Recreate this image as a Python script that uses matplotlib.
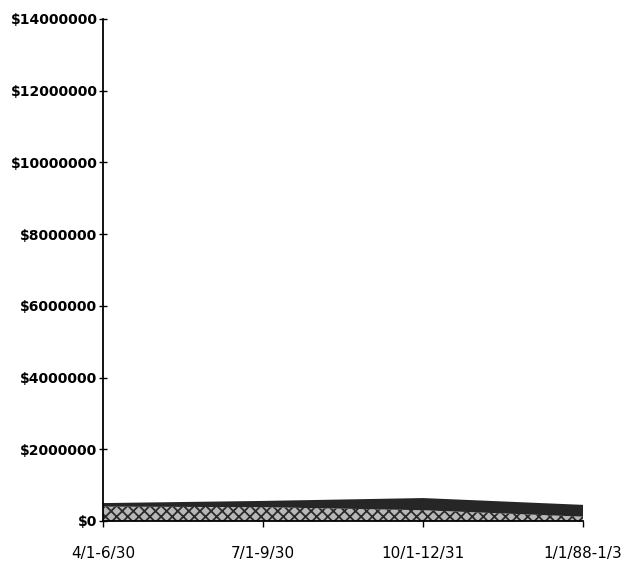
import numpy as np
import matplotlib
matplotlib.use("Agg")
import matplotlib.pyplot as plt
from matplotlib.ticker import FuncFormatter

# quarterly periods and stacked values (dollars)
periods = ["4/1-6/30", "7/1-9/30", "10/1-12/31", "1/1/88-1/3"]
lower_series = [400000, 385000, 300000, 120000]   # hatched band
upper_series = [100000, 175000, 340000, 330000]   # dark band
y_ticks = [0, 2000000, 4000000, 6000000, 8000000, 10000000, 12000000, 14000000]

plt.rcParams["hatch.linewidth"] = 1.3

fig = plt.figure(figsize=(6.34, 5.74), dpi=100)
fig.patch.set_facecolor("white")
ax = fig.add_axes([103 / 634, 53 / 574, 480 / 634, 502 / 574])

x = np.arange(len(periods))
polys = ax.stackplot(x, lower_series, upper_series,
                     colors=["#b8b8b8", "#262626"], linewidth=0)
polys[0].set_hatch("xxx")
polys[0].set_edgecolor("#2a2a2a")
polys[0].set_linewidth(0)

ax.set_xlim(0, len(periods) - 1)
ax.set_ylim(0, 14000000)
ax.set_yticks(y_ticks)
ax.yaxis.set_major_formatter(FuncFormatter(lambda v, _: f"${int(v)}"))
ax.set_xticks(x)
ax.set_xticklabels(periods)

for side in ["top", "right"]:
    ax.spines[side].set_visible(False)
ax.spines["left"].set_linewidth(1.3)
ax.spines["bottom"].set_linewidth(1.3)

ax.tick_params(axis="y", direction="inout", length=6, width=1, pad=1,
               labelsize=10)
ax.tick_params(axis="x", direction="out", length=4, width=1, pad=14,
               labelsize=11)
for lab in ax.get_yticklabels():
    lab.set_fontweight("bold")

fig.savefig("out.png", dpi=100, facecolor="white")
